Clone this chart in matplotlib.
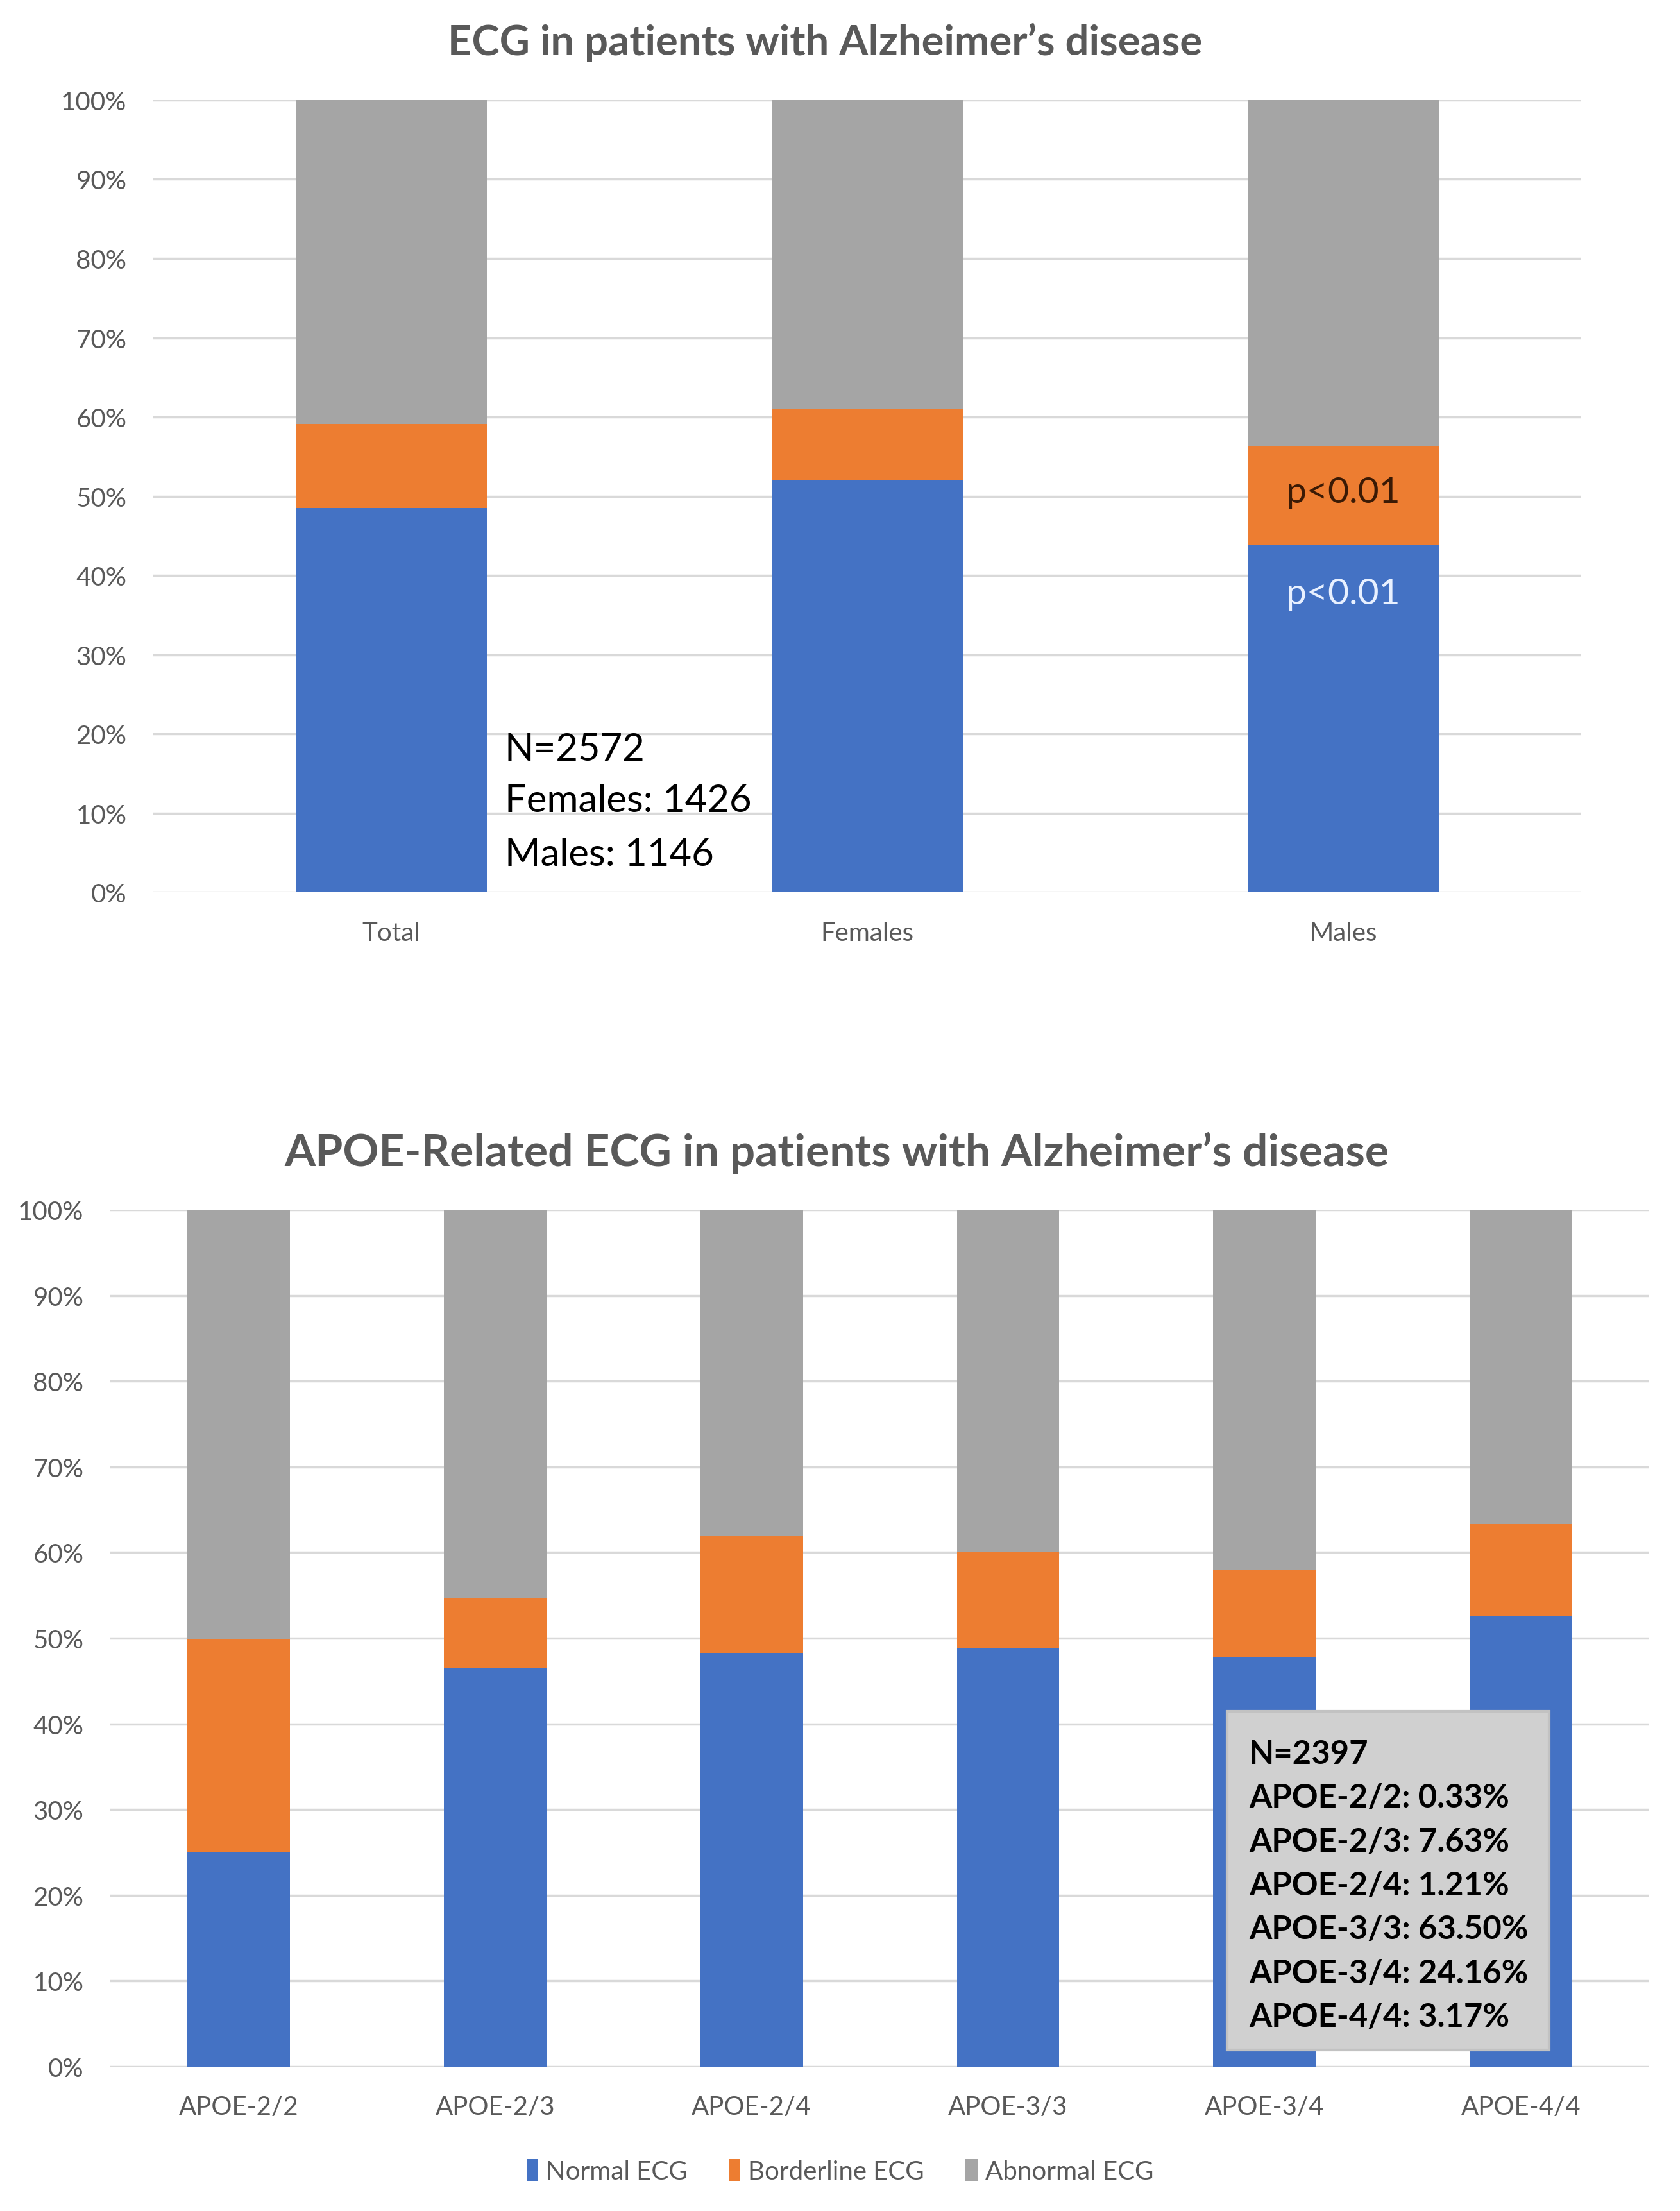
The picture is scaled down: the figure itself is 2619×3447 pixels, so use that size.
import matplotlib
matplotlib.use("Agg")
import matplotlib.pyplot as plt
from matplotlib.patches import Rectangle, Patch
from matplotlib.ticker import PercentFormatter

plt.rcParams['font.family'] = ['Lato', 'DejaVu Sans']

# ---------- data ----------
groups = ["Total", "Females", "Males"]
grp_normal = [0.485, 0.521, 0.438]
grp_border = [0.106, 0.089, 0.126]
grp_abnormal = [0.409, 0.390, 0.436]

apoe = ["APOE-2/2", "APOE-2/3", "APOE-2/4", "APOE-3/3", "APOE-3/4", "APOE-4/4"]
apoe_normal = [0.250, 0.465, 0.483, 0.489, 0.478, 0.526]
apoe_border = [0.249, 0.082, 0.136, 0.112, 0.102, 0.107]
apoe_abnormal = [0.501, 0.453, 0.381, 0.399, 0.420, 0.367]

series_names = ["Normal ECG", "Borderline ECG", "Abnormal ECG"]
colors = ["#4472C4", "#ED7D31", "#A5A5A5"]

top_note = ["N=2572", "Females: 1426", "Males: 1146"]
box_note = ["N=2397", "APOE-2/2: 0.33%", "APOE-2/3: 7.63%", "APOE-2/4: 1.21%",
            "APOE-3/3: 63.50%", "APOE-3/4: 24.16%", "APOE-4/4: 3.17%"]
pval = "p<0.01"

title_top = "ECG in patients with Alzheimer\u2019s disease"
title_bot = "APOE-Related ECG in patients with Alzheimer\u2019s disease"

TXT = "#595959"
GRID = "#D9D9D9"

fig = plt.figure(figsize=(26.19, 34.48), dpi=100)


def stacked(ax, cats, a, b, c):
    x = list(range(len(cats)))
    bottoms2 = [p + q for p, q in zip(a, b)]
    ax.bar(x, a, width=0.4, color=colors[0], zorder=2, label=series_names[0])
    ax.bar(x, b, width=0.4, bottom=a, color=colors[1], zorder=2, label=series_names[1])
    ax.bar(x, c, width=0.4, bottom=bottoms2, color=colors[2], zorder=2, label=series_names[2])
    ax.set_xlim(-0.5, len(cats) - 0.5)
    ax.set_ylim(0, 1.0)
    ax.set_yticks([i / 10 for i in range(11)])
    ax.yaxis.set_major_formatter(PercentFormatter(1.0, decimals=0))
    ax.set_xticks(x)
    ax.set_xticklabels(cats)
    ax.grid(axis='y', color=GRID, linewidth=2.5, zorder=0)
    for s in ax.spines.values():
        s.set_visible(False)
    ax.tick_params(axis='both', length=0, colors=TXT, labelsize=29)
    ax.tick_params(axis='y', pad=30)
    ax.tick_params(axis='x', pad=32)


# ---------- top chart ----------
ax1 = fig.add_axes([0.0913, 0.5962, 0.8500, 0.3583])
stacked(ax1, groups, grp_normal, grp_border, grp_abnormal)
fig.text(0.491, 1 - 66 / 3448, title_top, ha='center', va='center',
         fontsize=47, fontweight='bold', color=TXT)

ys = [0.181, 0.116, 0.048]
for t, y in zip(top_note, ys):
    ax1.text(0.246, y, t, transform=ax1.transAxes, ha='left', va='center',
             fontsize=43, color='black', zorder=5)

ax1.text(2, 0.505, pval, ha='center', va='center', fontsize=41,
         color='#3a1a05', zorder=5)
ax1.text(2, 0.377, pval, ha='center', va='center', fontsize=41,
         color='#E8F0FF', zorder=5)

# ---------- bottom chart ----------
ax2 = fig.add_axes([0.0657, 0.0653, 0.9160, 0.3874])
stacked(ax2, apoe, apoe_normal, apoe_border, apoe_abnormal)
fig.text(0.498, 1 - 1797 / 3448, title_bot, ha='center', va='center',
         fontsize=50, fontweight='bold', color=TXT)

box = Rectangle((0.7256, 0.019), 0.2094, 0.396, transform=ax2.transAxes,
                facecolor='#D0D0D0', edgecolor='#C2C2C2', linewidth=3, zorder=6)
ax2.add_patch(box)
y0 = 0.365
for i, t in enumerate(box_note):
    ax2.text(0.740, y0 - i * 0.0512, t, transform=ax2.transAxes, ha='left',
             va='center', fontsize=36.5, fontweight='bold', color='black', zorder=7)

handles = [Patch(facecolor=c, edgecolor='none') for c in colors]
fig.legend(handles, series_names, loc='center', bbox_to_anchor=(0.5, 0.018),
           ncol=3, frameon=False, fontsize=29, labelcolor=TXT,
           handlelength=0.45, handleheight=0.9, handletextpad=0.3,
           columnspacing=1.6)

fig.savefig("out.png", dpi=100, facecolor='white')
